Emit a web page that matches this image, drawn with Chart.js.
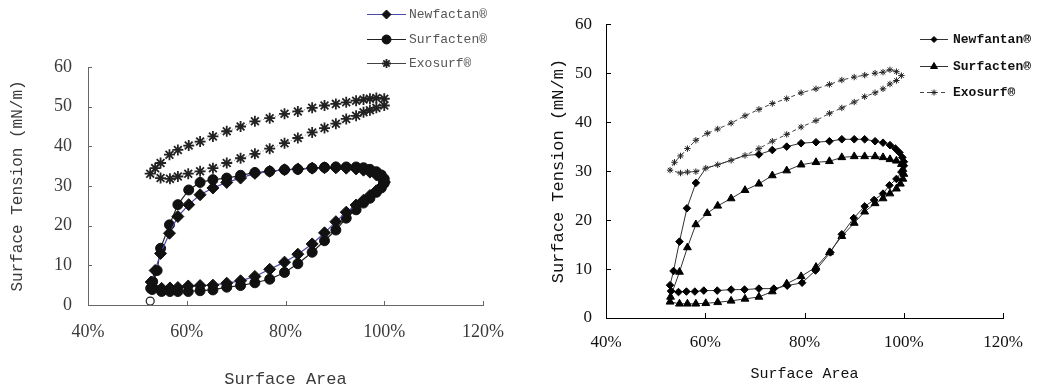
<!DOCTYPE html>
<html>
<head>
<meta charset="utf-8">
<script src="https://cdn.jsdelivr.net/npm/chart.js@4/dist/chart.umd.min.js"></script>
<style>
  html, body { margin: 0; padding: 0; background: #fff; }
  .row { display: flex; width: 1037px; height: 390px; }
  canvas { display: block; }
</style>
</head>
<body>
<div class="row">
  <canvas id="left" width="520" height="390"></canvas>
  <canvas id="right" width="517" height="390"></canvas>
</div>
<script>
// ---- left panel (Newfactan / Surfacten / Exosurf) ----
const leftNewfactanArea = [100, 99.4, 98.4, 97.1, 95.8, 94.3, 92.3, 90.2, 87.9, 85.4, 82.5, 79.8, 76.8, 73.8, 70.9, 68.1, 65.3, 62.7, 60.3, 58.2, 56.6, 54.9, 53.1,
    52.8, 53.6, 54.7, 56.5, 58.2, 60.4, 62.7, 65.3, 68.1, 70.9, 73.8, 76.8, 79.8, 82.5, 85.4, 87.9, 90.2, 92.3, 94.3, 95.8, 97.1, 98.4, 99.4, 100];
const leftNewfactanTension = [31, 29.8, 28.8, 27.6, 26.4, 25.2, 23.4, 21, 18.2, 15.4, 12.8, 10.8, 9.0, 7.2, 6.1, 5.5, 5.0, 4.9, 4.8, 4.4, 4.3, 4.2, 4.6,
    5.8, 8.7, 13.0, 18.1, 22.3, 25.3, 27.8, 29.5, 30.9, 32.0, 33.2, 33.7, 34.1, 34.3, 34.5, 34.6, 34.6, 34.5, 34.3, 34.0, 33.5, 32.8, 32.0, 31];

const leftSurfactenArea = [100, 99.4, 98.4, 97.1, 95.8, 94.3, 92.3, 90.2, 87.9, 85.4, 82.5, 79.8, 76.8, 73.8, 70.9, 68.1, 65.3, 62.7, 60.3, 58.2, 56.6, 54.9, 53.0,
    52.7, 53.1, 54.0, 54.7, 56.5, 58.2, 60.4, 62.7, 65.3, 68.1, 70.9, 73.8, 76.8, 79.8, 82.5, 85.4, 87.9, 90.2, 92.3, 94.3, 95.8, 97.1, 98.4, 99.4, 100];
const leftSurfactenTension = [30.7, 29.5, 28.4, 26.9, 25.7, 24.0, 21.9, 18.9, 16.2, 13.3, 10.4, 8.2, 6.5, 5.6, 4.9, 4.5, 3.8, 3.6, 3.4, 3.4, 3.4, 3.4, 3.9,
    4.2, 5.9, 8.7, 14.3, 20.2, 25.3, 29.0, 30.9, 31.6, 32.0, 32.7, 33.4, 33.7, 34.1, 34.2, 34.5, 34.7, 34.8, 34.8, 34.8, 34.6, 34.2, 33.6, 32.8, 31.8];

const leftExosurfArea = [100, 98.4, 97.1, 95.8, 94.3, 92.3, 90.2, 87.9, 85.4, 82.5, 79.8, 76.8, 73.8, 70.9, 68.1, 65.3, 62.7, 60.3, 58.2, 56.6, 54.7, 52.6,
    53.6, 54.7, 56.5, 58.2, 60.4, 62.7, 65.3, 68.1, 70.9, 73.8, 76.8, 79.8, 82.5, 85.4, 87.9, 90.2, 92.3, 94.3, 95.8, 97.1, 98.4, 100];
const leftExosurfTension = [50.3, 49.7, 49.1, 48.6, 47.7, 46.9, 45.7, 44.6, 43.5, 42.1, 40.8, 39.4, 38.1, 37.0, 35.8, 34.5, 33.7, 33.1, 32.4, 31.8, 32.0, 33.1,
    34.5, 35.8, 37.9, 39.1, 40.2, 41.2, 42.5, 43.8, 45.0, 46.3, 47.1, 48.2, 48.8, 49.7, 50.3, 50.7, 51.1, 51.5, 51.8, 52.0, 52.2, 52.0];

const leftOpenArea = [52.6];
const leftOpenTension = [1.0];

// ---- right panel (Newfantan / Surfacten / Exosurf) ----
const rightNewfantanArea = [100, 99.5, 98.5, 97.1, 95.8, 94.0, 92.1, 89.9, 87.5, 85.2, 82.2, 79.5, 76.5, 73.8, 70.8, 67.9, 65.2, 62.4, 59.7, 57.9, 56.2, 54.6, 53.1, 52.9,
    53.6, 54.8, 56.3, 58.1, 60.1, 62.5, 65.2, 68.0, 70.8, 73.5, 76.4, 79.3, 82.3, 85.0, 87.5, 90.0, 92.1, 94.2, 95.8, 97.2, 98.3, 99.1, 99.7, 100];
const rightNewfantanTension = [31.1, 29.8, 28.4, 27.1, 25.4, 24.1, 22.8, 20.4, 17.1, 13.4, 9.7, 7.2, 6.6, 6.0, 6.0, 5.8, 5.8, 5.6, 5.6, 5.4, 5.4, 5.3, 5.5, 6.7,
    9.6, 15.6, 22.4, 27.6, 30.6, 31.3, 32.2, 33.2, 33.4, 34.3, 35.0, 35.7, 35.9, 36.1, 36.5, 36.5, 36.5, 36.1, 35.8, 35.3, 34.6, 33.8, 32.8, 31.9];
// these points sit under the Exosurf markers in the original and show no diamond
const rightNewfantanCovered = [60.1, 62.5, 65.2, 68.0];

const rightSurfactenArea = [100, 99.8, 99.3, 98.5, 97.2, 95.8, 94.2, 92.1, 90.0, 87.5, 85.0, 82.3, 79.3, 76.4, 73.5, 70.8, 68.0, 65.2, 62.5, 60.1, 58.1, 56.4, 54.8, 52.9,
    53.0, 54.8, 56.4, 58.1, 60.4, 62.5, 65.2, 68.0, 70.8, 73.5, 76.4, 79.3, 82.3, 85.0, 87.5, 90.0, 92.1, 94.2, 95.8, 97.2, 98.5, 99.5, 99.8];
const rightSurfactenTension = [29.4, 28.4, 27.4, 26.4, 25.4, 24.4, 23.4, 21.7, 19.4, 16.7, 13.4, 10.4, 8.5, 7.0, 5.4, 4.3, 3.9, 3.5, 3.2, 3.0, 2.9, 2.9, 2.9, 3.3,
    4.3, 9.4, 14.4, 19.1, 21.4, 22.9, 24.4, 26.1, 27.4, 29.1, 30.1, 31.3, 31.8, 32.0, 32.8, 33.0, 33.0, 33.0, 32.8, 32.4, 32.1, 31.4, 30.4];

const rightExosurfArea = [99.5, 98.5, 97.2, 95.8, 94.2, 92.1, 90.0, 87.5, 85.0, 82.3, 79.3, 76.4, 73.5, 70.8, 68.0, 65.2, 62.5, 60.1, 58.1, 56.4, 55.0, 52.9,
    53.8, 55.0, 56.4, 58.1, 60.4, 62.5, 65.2, 68.0, 70.8, 73.5, 76.4, 79.3, 82.3, 85.0, 87.5, 90.0, 92.1, 94.2, 95.8, 97.2, 98.5];
const rightExosurfTension = [49.5, 48.5, 47.8, 46.8, 46.0, 45.2, 44.1, 42.9, 41.8, 40.3, 39.0, 37.5, 36.1, 34.6, 33.2, 32.2, 31.3, 30.6, 29.9, 29.8, 29.6, 30.2,
    31.8, 33.1, 34.6, 36.3, 37.7, 38.6, 39.8, 41.3, 42.6, 43.8, 44.8, 46.0, 46.8, 47.7, 48.6, 49.2, 49.6, 50.0, 50.2, 50.7, 50.3];

const leftLabels = ['Newfactan®', 'Surfacten®', 'Exosurf®'];
const rightLabels = ['Newfantan®', 'Surfacten®', 'Exosurf®'];
const xTitle = 'Surface Area';
const yTitle = 'Surface Tension (mN/m)';

const pts = (xs, ys) => xs.map((x, i) => ({ x, y: ys[i] }));

// short tick marks drawn inward, like the original plots
const innerTicks = {
    id: 'innerTicks',
    afterDraw(chart, args, opts) {
        const { ctx, chartArea, scales: { x, y } } = chart;
        ctx.save();
        ctx.strokeStyle = opts.color;
        ctx.lineWidth = 1;
        ctx.beginPath();
        x.ticks.forEach(t => {
            const px = Math.round(x.getPixelForValue(t.value)) + 0.5;
            ctx.moveTo(px, chartArea.bottom);
            ctx.lineTo(px, chartArea.bottom - opts.length);
        });
        y.ticks.forEach(t => {
            const py = Math.round(y.getPixelForValue(t.value)) + 0.5;
            ctx.moveTo(chartArea.left, py);
            ctx.lineTo(chartArea.left + opts.length, py);
        });
        ctx.stroke();
        ctx.restore();
    }
};

// legend with a line sample and marker, placed where the original has it
const markerLegend = {
    id: 'markerLegend',
    afterDraw(chart, args, opts) {
        const ctx = chart.ctx;
        ctx.save();
        opts.rows.forEach((y, i) => {
            const ds = chart.data.datasets[i];
            ctx.strokeStyle = opts.lineColors[i];
            ctx.lineWidth = ds.borderWidth;
            ctx.setLineDash(opts.dashes[i]);
            ctx.beginPath();
            ctx.moveTo(opts.lineStart, y + 0.5);
            ctx.lineTo(opts.lineEnd, y + 0.5);
            ctx.stroke();
            ctx.setLineDash([]);
            ctx.fillStyle = ds.pointBackgroundColor;
            ctx.strokeStyle = ds.pointBorderColor;
            ctx.lineWidth = ds.pointBorderWidth;
            Chart.helpers.drawPoint(ctx, {
                pointStyle: ds.pointStyle,
                radius: opts.radius[i],
                rotation: 0,
                borderWidth: ds.pointBorderWidth
            }, (opts.lineStart + opts.lineEnd) / 2, y + 0.5);
            ctx.fillStyle = opts.color;
            ctx.font = opts.font;
            ctx.textBaseline = 'middle';
            ctx.textAlign = 'left';
            ctx.fillText(ds.label, opts.textX, y + 1);
        });
        ctx.restore();
    }
};

function axes(o) {
    return {
        x: {
            type: 'linear', min: 40, max: 120,
            afterFit: s => { s.height = o.xHeight; },
            grid: { display: false, drawTicks: false },
            border: { display: true, color: o.axisColor, width: 1 },
            ticks: {
                stepSize: 20, padding: o.xPad, color: o.textColor,
                font: { family: 'Liberation Serif', size: o.tickSize },
                callback: v => v + '%'
            },
            title: {
                display: true, text: xTitle, color: o.textColor,
                font: { family: 'Liberation Mono', size: o.xTitleSize },
                padding: { top: 0, bottom: o.xTitlePad }
            }
        },
        y: {
            type: 'linear', min: 0, max: 60,
            afterFit: s => { s.width = o.yWidth; },
            grid: { display: false, drawTicks: false },
            border: { display: true, color: o.axisColor, width: 1 },
            ticks: {
                stepSize: 10, padding: o.yPad, color: o.textColor,
                font: { family: 'Liberation Serif', size: o.tickSize }
            },
            title: {
                display: true, text: yTitle, color: o.textColor,
                font: { family: 'Liberation Mono', size: o.yTitleSize },
                padding: { top: o.yTitlePad, bottom: 0 }
            }
        }
    };
}

const common = {
    responsive: false,
    animation: false,
    devicePixelRatio: 1,
    plugins: { legend: { display: false }, tooltip: { enabled: false } }
};

new Chart(document.getElementById('left').getContext('2d'), {
    type: 'scatter',
    data: {
        datasets: [{
            label: leftLabels[0],
            data: pts(leftNewfactanArea, leftNewfactanTension),
            showLine: true, borderColor: '#4a4aa8', borderWidth: 1.2,
            pointStyle: 'rectRot', pointRadius: 6,
            pointBackgroundColor: '#111', pointBorderColor: '#111', pointBorderWidth: 1
        }, {
            label: leftLabels[1],
            data: pts(leftSurfactenArea, leftSurfactenTension),
            showLine: true, borderColor: '#222', borderWidth: 1.2,
            pointStyle: 'circle', pointRadius: 5,
            pointBackgroundColor: '#111', pointBorderColor: '#111', pointBorderWidth: 1
        }, {
            label: leftLabels[2],
            data: pts(leftExosurfArea, leftExosurfTension),
            showLine: true, borderColor: '#888', borderWidth: 1, borderDash: [1, 2],
            pointStyle: 'star', pointRadius: 5.5,
            pointBackgroundColor: '#222', pointBorderColor: '#222', pointBorderWidth: 1.8
        }, {
            label: 'open',
            data: pts(leftOpenArea, leftOpenTension),
            showLine: false,
            pointStyle: 'circle', pointRadius: 4,
            pointBackgroundColor: '#fff', pointBorderColor: '#222', pointBorderWidth: 1.2
        }]
    },
    options: {
        ...common,
        layout: { padding: { top: 67, right: 27, left: 0, bottom: 0 } },
        scales: axes({
            xHeight: 85, yWidth: 88, xPad: 16, yPad: 16, tickSize: 18,
            xTitleSize: 17, yTitleSize: 16, xTitlePad: 0, yTitlePad: 8,
            axisColor: '#666', textColor: '#3a3a3a'
        }),
        plugins: {
            ...common.plugins,
            innerTicks: { color: '#666', length: 4 },
            markerLegend: {
                rows: [14, 39, 63], lineStart: 367, lineEnd: 406, textX: 409,
                lineColors: ['#4a4aa8', '#222', '#444'],
                radius: [4.5, 4.5, 4.5], dashes: [[], [], []],
                font: '13px "Liberation Mono"', color: '#555'
            }
        }
    },
    plugins: [innerTicks, markerLegend]
});

new Chart(document.getElementById('right').getContext('2d'), {
    type: 'scatter',
    data: {
        datasets: [{
            label: rightLabels[0],
            data: pts(rightNewfantanArea, rightNewfantanTension),
            showLine: true, borderColor: '#333', borderWidth: 1,
            pointStyle: 'rectRot',
            pointRadius: ctx => rightNewfantanCovered.includes(ctx.raw?.x) && ctx.dataIndex > 23 ? 0 : 3.8,
            pointBackgroundColor: '#000', pointBorderColor: '#000', pointBorderWidth: 1
        }, {
            label: rightLabels[1],
            data: pts(rightSurfactenArea, rightSurfactenTension),
            showLine: true, borderColor: '#333', borderWidth: 1,
            pointStyle: 'triangle', pointRadius: 4.5,
            pointBackgroundColor: '#000', pointBorderColor: '#000', pointBorderWidth: 1
        }, {
            label: rightLabels[2],
            data: pts(rightExosurfArea, rightExosurfTension),
            showLine: true, borderColor: '#444', borderWidth: 1, borderDash: [4, 3],
            pointStyle: 'star', pointRadius: 3.2,
            pointBackgroundColor: '#222', pointBorderColor: '#222', pointBorderWidth: 1
        }]
    },
    options: {
        ...common,
        layout: { padding: { top: 19, right: 29, left: 0, bottom: 0 } },
        scales: axes({
            xHeight: 72, yWidth: 86, xPad: 14, yPad: 14, tickSize: 17,
            xTitleSize: 15, yTitleSize: 17, xTitlePad: 7, yTitlePad: 28,
            axisColor: '#000', textColor: '#111'
        }),
        plugins: {
            ...common.plugins,
            innerTicks: { color: '#000', length: 5 },
            markerLegend: {
                rows: [39, 66, 92], lineStart: 400, lineEnd: 428, textX: 433,
                lineColors: ['#333', '#333', '#444'],
                radius: [3, 4, 3], dashes: [[], [], [4, 3]],
                font: 'bold 13px "Liberation Mono"', color: '#111'
            }
        }
    },
    plugins: [innerTicks, markerLegend]
});
</script>
</body>
</html>
